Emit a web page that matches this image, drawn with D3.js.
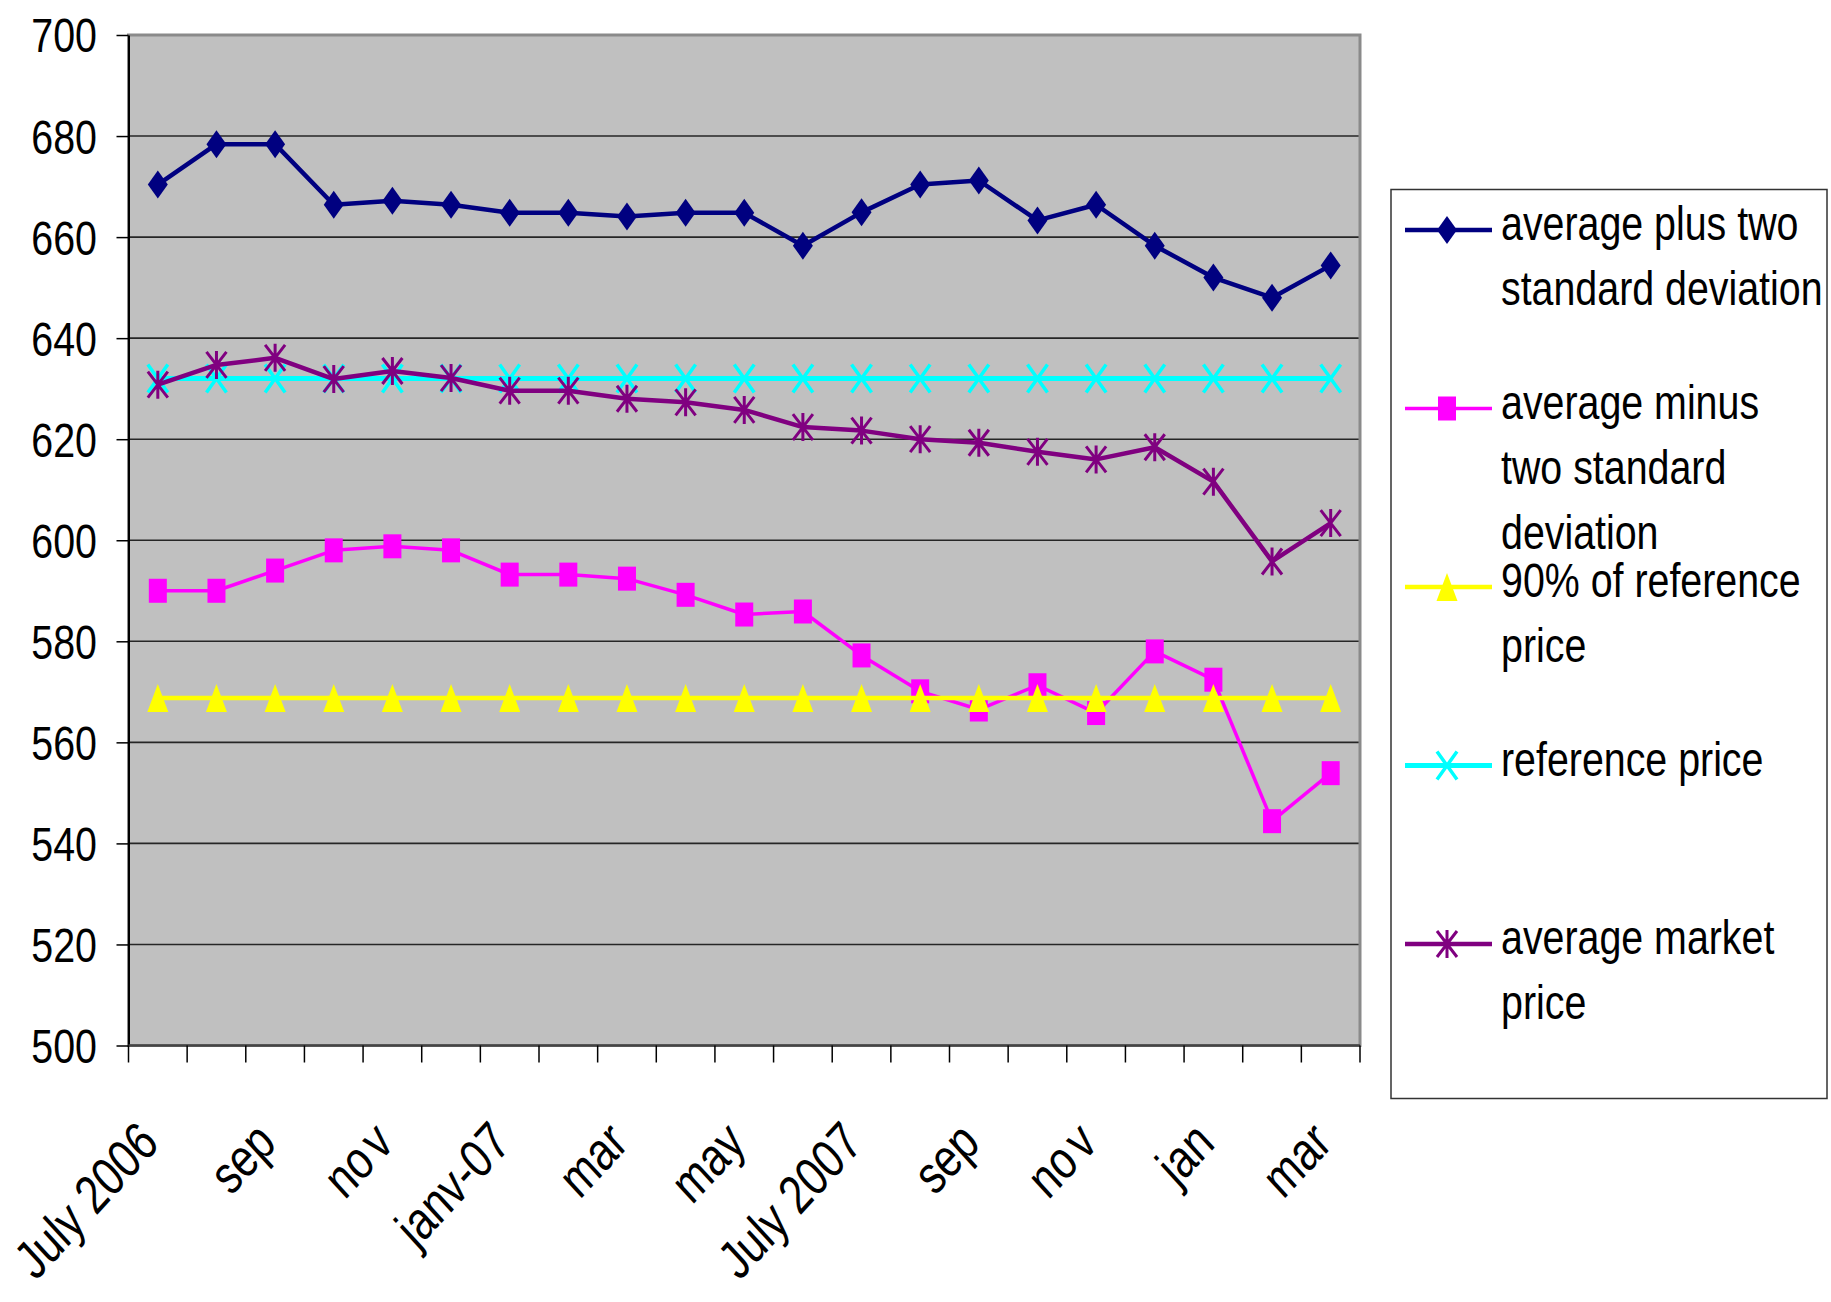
<!DOCTYPE html>
<html>
<head>
<meta charset="utf-8">
<script src="https://cdn.jsdelivr.net/npm/d3@7"></script>
<style>
  html, body { margin: 0; padding: 0; background: #ffffff; }
  svg { display: block; }
  text { font-family: "Liberation Sans", Arial, sans-serif; fill: #000; }
</style>
</head>
<body>
<svg id="chart" width="1831" height="1302"></svg>
<script>
// Monthly categories, July 2006 to March 2008
const months = ["July 2006", "aug", "sep", "oct", "nov", "dec", "janv-07", "feb", "mar", "apr", "may", "jun",
                "July 2007", "aug", "sep", "oct", "nov", "dec", "jan", "feb", "mar"];

// Series values
const avgPlusTwoSD  = [670.4, 678.4, 678.4, 666.4, 667.2, 666.4, 664.8, 664.8, 664.1, 664.8, 664.8,
                       658.3, 664.9, 670.4, 671.2, 663.3, 666.4, 658.3, 652.0, 648.0, 654.4];
const avgMinusTwoSD = [590.0, 590.0, 594.0, 598.0, 598.8, 598.0, 593.2, 593.2, 592.4, 589.2, 585.3,
                       585.9, 577.2, 570.1, 566.5, 571.3, 565.8, 578.0, 572.4, 544.4, 553.9];
const ninetyPctRef  = [568.8, 568.8, 568.8, 568.8, 568.8, 568.8, 568.8, 568.8, 568.8, 568.8, 568.8,
                       568.8, 568.8, 568.8, 568.8, 568.8, 568.8, 568.8, 568.8, 568.8, 568.8];
const referencePrice = [632, 632, 632, 632, 632, 632, 632, 632, 632, 632, 632,
                        632, 632, 632, 632, 632, 632, 632, 632, 632, 632];
const avgMarketPrice = [630.8, 634.7, 636.1, 631.9, 633.5, 632.1, 629.6, 629.6, 628.0, 627.3, 625.8,
                        622.4, 621.7, 620.0, 619.3, 617.5, 616.0, 618.4, 611.6, 595.8, 603.4];

// Axis ticks
const yTicks = [500, 520, 540, 560, 580, 600, 620, 640, 660, 680, 700];
const xTickLabels = ["July 2006", "sep", "nov", "janv-07", "mar", "may", "July 2007", "sep", "nov", "jan", "mar"];

const seriesNames = [
  ["average plus two", "standard deviation"],
  ["average minus", "two standard", "deviation"],
  ["90% of reference", "price"],
  ["reference price"],
  ["average market", "price"]
];

const series = [
  { values: avgPlusTwoSD,   color: "#000080", width: 4.5, marker: "diamond"  },
  { values: avgMinusTwoSD,  color: "#FF00FF", width: 3.5, marker: "square"   },
  { values: ninetyPctRef,   color: "#FFFF00", width: 4.5, marker: "triangle" },
  { values: referencePrice, color: "#00FFFF", width: 5,   marker: "cross"    },
  { values: avgMarketPrice, color: "#800080", width: 4.5, marker: "star"     }
];

const svg = d3.select("#chart");
const plot = { left: 128.5, right: 1360, top: 35, bottom: 1045.5 };
const NARROW = 0.82;      // horizontal compression for the condensed label face
const FONT = 48;

const x = d3.scaleBand().domain(d3.range(months.length)).range([plot.left, plot.right]).padding(0);
const cx = i => x(i) + x.bandwidth() / 2;
const y = d3.scaleLinear().domain([500, 700]).range([plot.bottom, plot.top]);

// Plot background
svg.append("rect")
  .attr("x", plot.left).attr("y", plot.top)
  .attr("width", plot.right - plot.left).attr("height", plot.bottom - plot.top)
  .attr("fill", "#C0C0C0");

// Horizontal gridlines
svg.append("g").selectAll("line")
  .data(yTicks.filter(v => v > 500 && v < 700))
  .join("line")
  .attr("x1", plot.left).attr("x2", plot.right)
  .attr("y1", d => y(d)).attr("y2", d => y(d))
  .attr("stroke", "#262626").attr("stroke-width", 1.6);

// Plot frame
svg.append("rect")
  .attr("x", plot.left).attr("y", plot.top)
  .attr("width", plot.right - plot.left).attr("height", plot.bottom - plot.top)
  .attr("fill", "none").attr("stroke", "#8a8a8a").attr("stroke-width", 3);

// Y axis
const yAxis = svg.append("g")
  .attr("transform", `translate(${plot.left},0)`)
  .call(d3.axisLeft(y).tickValues(yTicks).tickSize(12).tickSizeOuter(0).tickFormat(d3.format("d")));
yAxis.select(".domain").attr("stroke", "#000").attr("stroke-width", 2);
yAxis.selectAll(".tick line").attr("stroke", "#000").attr("stroke-width", 1.5);
yAxis.selectAll(".tick text")
  .attr("x", -31.5 / NARROW)
  .attr("dy", null)
  .attr("dominant-baseline", "central")
  .attr("transform", `scale(${NARROW},1)`)
  .style("font-family", '"Liberation Sans", Arial, sans-serif')
  .style("font-size", FONT + "px")
  .attr("fill", "#000");

// X axis: tick marks on category boundaries
const xAxisG = svg.append("g");
xAxisG.append("line")
  .attr("x1", plot.left).attr("x2", plot.right)
  .attr("y1", plot.bottom).attr("y2", plot.bottom)
  .attr("stroke", "#444").attr("stroke-width", 2.5);
xAxisG.selectAll("line.tk")
  .data(d3.range(months.length + 1))
  .join("line").attr("class", "tk")
  .attr("x1", i => plot.left + i * x.step()).attr("x2", i => plot.left + i * x.step())
  .attr("y1", plot.bottom).attr("y2", plot.bottom + 17)
  .attr("stroke", "#000").attr("stroke-width", 1.5);

// Rotated category labels on every second month (steep slant)
const LBL = 1.05;
const labelled = d3.range(0, months.length, 2);
xAxisG.selectAll("text")
  .data(labelled)
  .join("text")
  .attr("text-anchor", "end")
  .attr("transform", (i) => `translate(${cx(i) + 3},${plot.bottom + 100}) scale(1,1.09) rotate(-45) scale(${NARROW * LBL},${LBL})`)
  .style("font-size", FONT + "px")
  .each(function (i, k) {
    const t = xTickLabels[k];
    const el = d3.select(this);
    if (t === "nov") {
      el.append("tspan").text("no");
      el.append("tspan").attr("dx", 6).text("v");
    } else {
      el.text(t);
    }
  });

// Marker shapes, centred on the data point
function drawMarker(g, type, color) {
  if (type === "diamond") {
    g.append("path").attr("d", "M0,-14L10,0L0,14L-10,0Z").attr("fill", color);
  } else if (type === "square") {
    g.append("rect").attr("x", -9).attr("y", -12).attr("width", 18).attr("height", 24).attr("fill", color);
  } else if (type === "triangle") {
    g.append("path").attr("d", "M0,-14L10.5,14L-10.5,14Z").attr("fill", color);
  } else if (type === "cross") {
    g.append("path").attr("d", "M-10,-14L10,14M10,-14L-10,14")
      .attr("stroke", color).attr("stroke-width", 3.5).attr("fill", "none");
  } else if (type === "star") {
    g.append("path").attr("d", "M-10,-13L10,13M10,-13L-10,13M0,-14L0,14")
      .attr("stroke", color).attr("stroke-width", 3).attr("fill", "none");
  }
}

const line = d3.line().x((d, i) => cx(i)).y(d => y(d));

series.forEach(s => {
  const g = svg.append("g");
  g.append("path")
    .datum(s.values)
    .attr("d", line)
    .attr("fill", "none")
    .attr("stroke", s.color)
    .attr("stroke-width", s.width)
    .attr("stroke-linejoin", "round");
  g.selectAll("g.m")
    .data(s.values)
    .join("g").attr("class", "m")
    .attr("transform", (d, i) => `translate(${cx(i)},${y(d)})`)
    .each(function () { drawMarker(d3.select(this), s.marker, s.color); });
});

// Legend
const legend = svg.append("g");
legend.append("rect")
  .attr("x", 1391).attr("y", 189.5)
  .attr("width", 436).attr("height", 909)
  .attr("fill", "#fff").attr("stroke", "#333").attr("stroke-width", 1.5);

const legendStep = 178.5;
series.forEach((s, k) => {
  const ly = 230 + k * legendStep;
  const g = legend.append("g");
  g.append("line")
    .attr("x1", 1405).attr("x2", 1492).attr("y1", ly).attr("y2", ly)
    .attr("stroke", s.color).attr("stroke-width", s.width);
  const mk = g.append("g").attr("transform", `translate(1447,${ly})`);
  drawMarker(mk, s.marker, s.color);
  seriesNames[k].forEach((t, j) => {
    g.append("text")
      .attr("transform", `translate(1501,${ly + 10 + j * 65}) scale(${NARROW},1)`)
      .style("font-size", FONT + "px")
      .text(t);
  });
});
</script>
</body>
</html>
